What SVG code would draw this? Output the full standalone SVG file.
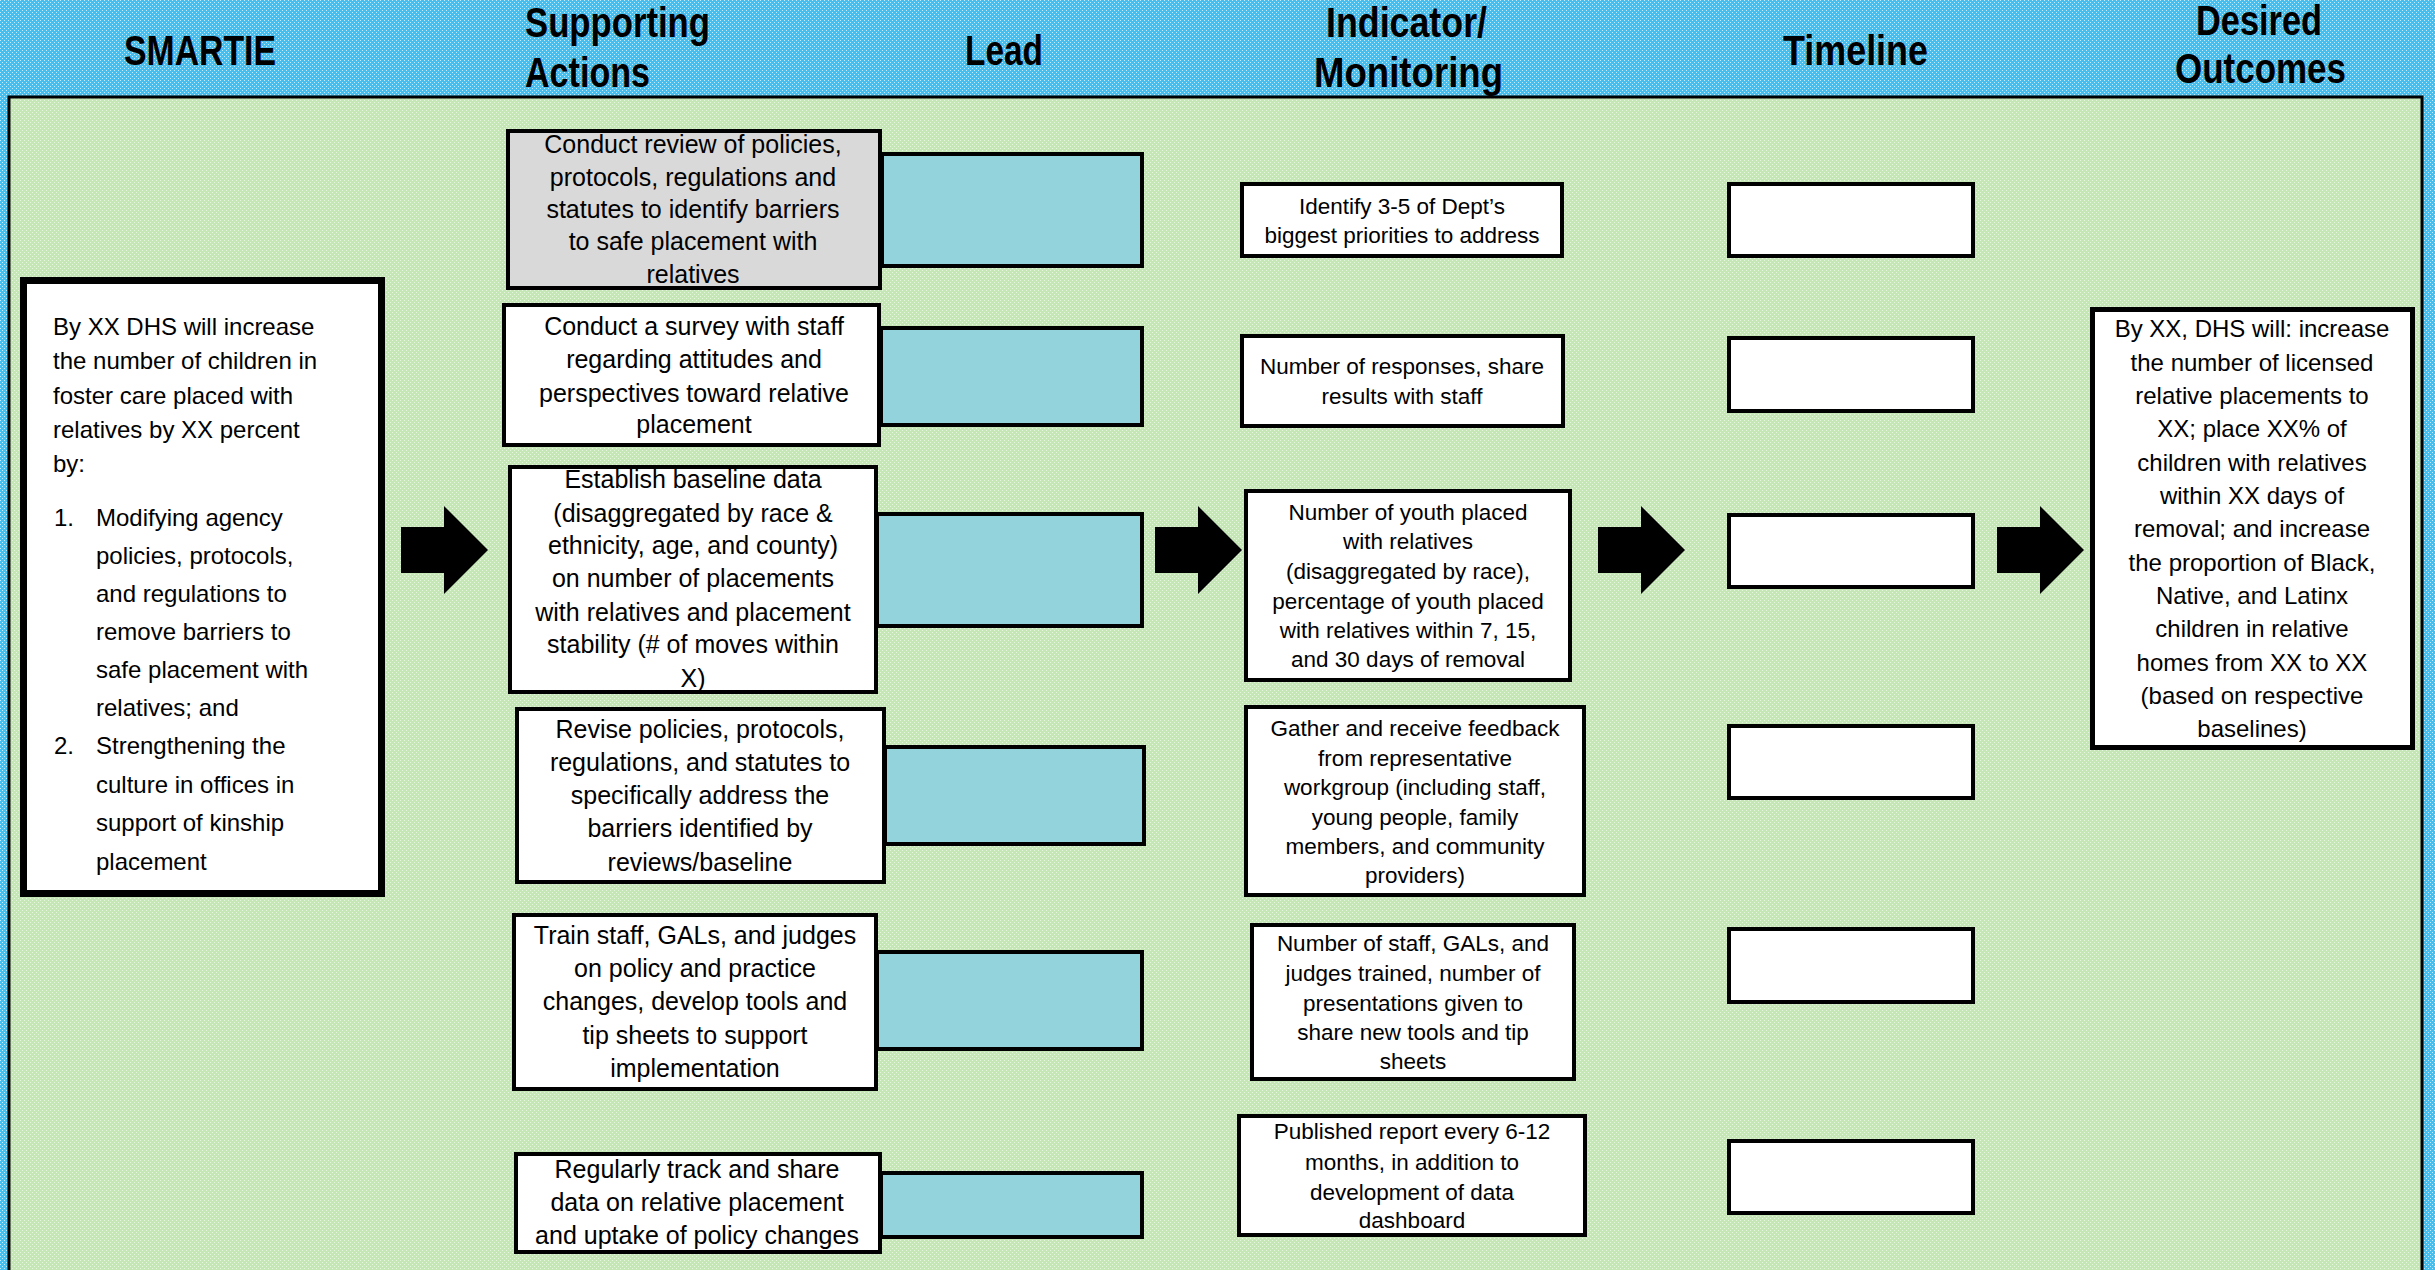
<svg xmlns="http://www.w3.org/2000/svg" width="2435" height="1270" viewBox="0 0 2435 1270">
<defs>
<pattern id="pBlue" width="4" height="4" patternUnits="userSpaceOnUse">
<rect width="4" height="4" fill="#46bfee"/>
<rect x="0" y="0" width="1" height="1" fill="#c4ebfa"/>
<rect x="2" y="2" width="1" height="1" fill="#c4ebfa"/>
</pattern>
<pattern id="pGreen" width="4" height="4" patternUnits="userSpaceOnUse">
<rect width="4" height="4" fill="#c5e7b6"/>
<rect x="0" y="0" width="1" height="1" fill="#e6f5de"/>
<rect x="2" y="2" width="1" height="1" fill="#e6f5de"/>
</pattern>
</defs>
<style>
.h{font-family:"Liberation Sans Narrow","Liberation Sans",Arial,sans-serif;font-weight:bold;font-size:42px;fill:#000}
.hc{text-anchor:middle}
.a{font-family:"Liberation Sans",Arial,sans-serif;font-size:25px;fill:#000;text-anchor:middle}
.i{font-family:"Liberation Sans",Arial,sans-serif;font-size:22.5px;fill:#000;text-anchor:middle}
.s{font-family:"Liberation Sans",Arial,sans-serif;font-size:24px;fill:#000}
.d{font-family:"Liberation Sans",Arial,sans-serif;font-size:24px;fill:#000;text-anchor:middle}
.box{fill:#fff;stroke:#000;stroke-width:4}
.gray{fill:#d9d9d9;stroke:#000;stroke-width:4}
.lead{fill:#92d3dc;stroke:#000;stroke-width:4}
.arrow{fill:#000}
</style>
<rect x="0" y="0" width="2435" height="1270" fill="url(#pBlue)"/>
<rect x="9" y="97" width="2413" height="1185" fill="url(#pGreen)" stroke="#000" stroke-width="3"/>
<g id="headers">
<text class="h" x="124" y="65" textLength="152" lengthAdjust="spacingAndGlyphs">SMARTIE</text>
<text class="h" x="525" y="37" textLength="185" lengthAdjust="spacingAndGlyphs">Supporting</text>
<text class="h" x="525" y="87" textLength="125" lengthAdjust="spacingAndGlyphs">Actions</text>
<text class="h" x="965" y="65" textLength="78" lengthAdjust="spacingAndGlyphs">Lead</text>
<text class="h" x="1326" y="37" textLength="161" lengthAdjust="spacingAndGlyphs">Indicator/</text>
<text class="h" x="1314" y="87" textLength="189" lengthAdjust="spacingAndGlyphs">Monitoring</text>
<text class="h" x="1783" y="65" textLength="145" lengthAdjust="spacingAndGlyphs">Timeline</text>
<text class="h" x="2196" y="35" textLength="126" lengthAdjust="spacingAndGlyphs">Desired</text>
<text class="h" x="2175" y="83" textLength="171" lengthAdjust="spacingAndGlyphs">Outcomes</text>
</g>
<g id="connectors">
<path class="arrow" d="M401,527 H444 V506 L488,550 L444,594 V573 H401 Z"/>
<path class="arrow" d="M1155,527 H1198 V506 L1242,550 L1198,594 V573 H1155 Z"/>
<path class="arrow" d="M1598,527 H1641 V506 L1685,550 L1641,594 V573 H1598 Z"/>
<path class="arrow" d="M1997,527 H2040 V506 L2084,550 L2040,594 V573 H1997 Z"/>
</g>
<g id="smartie">
<rect x="23.5" y="280.5" width="358" height="613" fill="#fff" stroke="#000" stroke-width="7"/>
<text class="s" x="53" y="335">By XX DHS will increase</text>
<text class="s" x="53" y="369">the number of children in</text>
<text class="s" x="53" y="404">foster care placed with</text>
<text class="s" x="53" y="438">relatives by XX percent</text>
<text class="s" x="53" y="472">by:</text>
<text class="s" x="54" y="526">1.</text>
<text class="s" x="96" y="526">Modifying agency</text>
<text class="s" x="96" y="564">policies, protocols,</text>
<text class="s" x="96" y="602">and regulations to</text>
<text class="s" x="96" y="640">remove barriers to</text>
<text class="s" x="96" y="678">safe placement with</text>
<text class="s" x="96" y="716">relatives; and</text>
<text class="s" x="54" y="754">2.</text>
<text class="s" x="96" y="754">Strengthening the</text>
<text class="s" x="96" y="793">culture in offices in</text>
<text class="s" x="96" y="831">support of kinship</text>
<text class="s" x="96" y="870">placement</text>
</g>
<g id="action1">
<rect class="gray" x="508" y="131" width="372" height="157"/>
<text class="a" x="693" y="153">Conduct review of policies,</text>
<text class="a" x="693" y="186">protocols, regulations and</text>
<text class="a" x="693" y="218">statutes to identify barriers</text>
<text class="a" x="693" y="250">to safe placement with</text>
<text class="a" x="693" y="283">relatives</text>
</g>
<g id="action2">
<rect class="box" x="504" y="305" width="375" height="140"/>
<text class="a" x="694" y="335">Conduct a survey with staff</text>
<text class="a" x="694" y="368">regarding attitudes and</text>
<text class="a" x="694" y="402">perspectives toward relative</text>
<text class="a" x="694" y="433">placement</text>
</g>
<g id="action3">
<rect class="box" x="510" y="467" width="366" height="225"/>
<text class="a" x="693" y="488">Establish baseline data</text>
<text class="a" x="693" y="522">(disaggregated by race &amp;</text>
<text class="a" x="693" y="554">ethnicity, age, and county)</text>
<text class="a" x="693" y="587">on number of placements</text>
<text class="a" x="693" y="621">with relatives and placement</text>
<text class="a" x="693" y="653">stability (# of moves within</text>
<text class="a" x="693" y="687">X)</text>
</g>
<g id="action4">
<rect class="box" x="517" y="709" width="367" height="173"/>
<text class="a" x="700" y="738">Revise policies, protocols,</text>
<text class="a" x="700" y="771">regulations, and statutes to</text>
<text class="a" x="700" y="804">specifically address the</text>
<text class="a" x="700" y="837">barriers identified by</text>
<text class="a" x="700" y="871">reviews/baseline</text>
</g>
<g id="action5">
<rect class="box" x="514" y="915" width="362" height="174"/>
<text class="a" x="695" y="944">Train staff, GALs, and judges</text>
<text class="a" x="695" y="977">on policy and practice</text>
<text class="a" x="695" y="1010">changes, develop tools and</text>
<text class="a" x="695" y="1044">tip sheets to support</text>
<text class="a" x="695" y="1077">implementation</text>
</g>
<g id="action6">
<rect class="box" x="516" y="1154" width="364" height="98"/>
<text class="a" x="697" y="1178">Regularly track and share</text>
<text class="a" x="697" y="1211">data on relative placement</text>
<text class="a" x="697" y="1244">and uptake of policy changes</text>
</g>
<g id="lead1"><rect class="lead" x="882" y="154" width="260" height="112"/></g>
<g id="lead2"><rect class="lead" x="881" y="328" width="261" height="97"/></g>
<g id="lead3"><rect class="lead" x="877" y="514" width="265" height="112"/></g>
<g id="lead4"><rect class="lead" x="885" y="747" width="259" height="97"/></g>
<g id="lead5"><rect class="lead" x="877" y="952" width="265" height="97"/></g>
<g id="lead6"><rect class="lead" x="881" y="1173" width="261" height="64"/></g>
<g id="indicator1">
<rect class="box" x="1242" y="184" width="320" height="72"/>
<text class="i" x="1402" y="214">Identify 3-5 of Dept’s</text>
<text class="i" x="1402" y="243">biggest priorities to address</text>
</g>
<g id="indicator2">
<rect class="box" x="1242" y="336" width="321" height="90"/>
<text class="i" x="1402" y="374">Number of responses, share</text>
<text class="i" x="1402" y="404">results with staff</text>
</g>
<g id="indicator3">
<rect class="box" x="1246" y="491" width="324" height="189"/>
<text class="i" x="1408" y="520">Number of youth placed</text>
<text class="i" x="1408" y="549">with relatives</text>
<text class="i" x="1408" y="579">(disaggregated by race),</text>
<text class="i" x="1408" y="609">percentage of youth placed</text>
<text class="i" x="1408" y="638">with relatives within 7, 15,</text>
<text class="i" x="1408" y="667">and 30 days of removal</text>
</g>
<g id="indicator4">
<rect class="box" x="1246" y="707" width="338" height="188"/>
<text class="i" x="1415" y="736">Gather and receive feedback</text>
<text class="i" x="1415" y="766">from representative</text>
<text class="i" x="1415" y="795">workgroup (including staff,</text>
<text class="i" x="1415" y="825">young people, family</text>
<text class="i" x="1415" y="854">members, and community</text>
<text class="i" x="1415" y="883">providers)</text>
</g>
<g id="indicator5">
<rect class="box" x="1252" y="925" width="322" height="154"/>
<text class="i" x="1413" y="951">Number of staff, GALs, and</text>
<text class="i" x="1413" y="981">judges trained, number of</text>
<text class="i" x="1413" y="1011">presentations given to</text>
<text class="i" x="1413" y="1040">share new tools and tip</text>
<text class="i" x="1413" y="1069">sheets</text>
</g>
<g id="indicator6">
<rect class="box" x="1239" y="1116" width="346" height="119"/>
<text class="i" x="1412" y="1139">Published report every 6-12</text>
<text class="i" x="1412" y="1170">months, in addition to</text>
<text class="i" x="1412" y="1200">development of data</text>
<text class="i" x="1412" y="1228">dashboard</text>
</g>
<g id="timeline1"><rect class="box" x="1729" y="184" width="244" height="72"/></g>
<g id="timeline2"><rect class="box" x="1729" y="338" width="244" height="73"/></g>
<g id="timeline3"><rect class="box" x="1729" y="515" width="244" height="72"/></g>
<g id="timeline4"><rect class="box" x="1729" y="726" width="244" height="72"/></g>
<g id="timeline5"><rect class="box" x="1729" y="929" width="244" height="73"/></g>
<g id="timeline6"><rect class="box" x="1729" y="1141" width="244" height="72"/></g>
<g id="outcome">
<rect x="2092.5" y="309.5" width="320" height="438" fill="#fff" stroke="#000" stroke-width="5"/>
<text class="d" x="2252" y="337">By XX, DHS will: increase</text>
<text class="d" x="2252" y="371">the number of licensed</text>
<text class="d" x="2252" y="404">relative placements to</text>
<text class="d" x="2252" y="437">XX; place XX% of</text>
<text class="d" x="2252" y="471">children with relatives</text>
<text class="d" x="2252" y="504">within XX days of</text>
<text class="d" x="2252" y="537">removal; and increase</text>
<text class="d" x="2252" y="571">the proportion of Black,</text>
<text class="d" x="2252" y="604">Native, and Latinx</text>
<text class="d" x="2252" y="637">children in relative</text>
<text class="d" x="2252" y="671">homes from XX to XX</text>
<text class="d" x="2252" y="704">(based on respective</text>
<text class="d" x="2252" y="737">baselines)</text>
</g>
</svg>
